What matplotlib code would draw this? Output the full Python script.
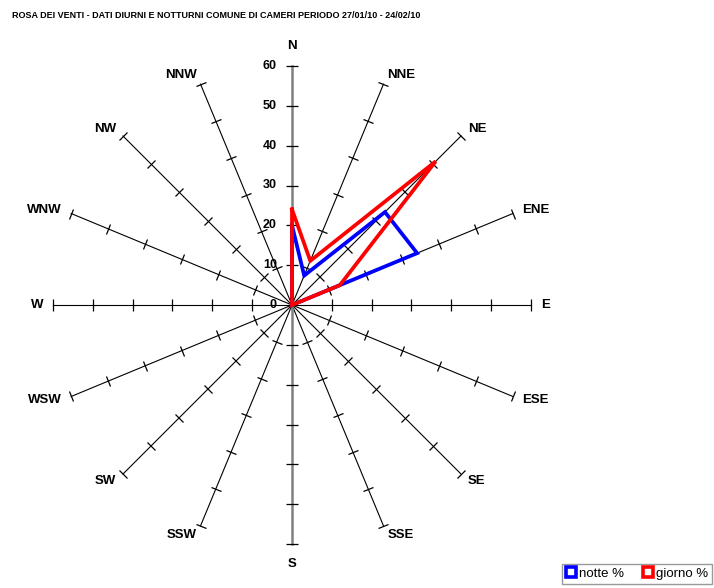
"""
Rosa dei venti - dati diurni e notturni, Cameri
"""
import matplotlib
matplotlib.use('Agg')
import matplotlib.pyplot as plt
from matplotlib import font_manager
from matplotlib.markers import MarkerStyle
from matplotlib.transforms import Affine2D
from matplotlib.lines import Line2D
import numpy as np

plt.rcParams['font.family'] = ['Liberation Sans', 'DejaVu Sans']

# --- data -------------------------------------------------------------
directions = ['N', 'NNE', 'NE', 'ENE', 'E', 'ESE', 'SE', 'SSE',
              'S', 'SSW', 'SW', 'WSW', 'W', 'WNW', 'NW', 'NNW']
notte = [20, 8, 33, 34, 0, 0, 0, 0, 0, 0, 0, 0, 0, 0, 0, 0]
giorno = [24, 12, 51, 13, 0, 0, 0, 0, 0, 0, 0, 0, 0, 0, 0, 0]
r_ticks = [0, 10, 20, 30, 40, 50, 60]

TITLE = 'ROSA DEI VENTI - DATI DIURNI E NOTTURNI COMUNE DI CAMERI PERIODO 27/01/10 - 24/02/10'
BLUE = '#0000ff'
RED = '#ff0000'
GREY = '#808080'

W, H = 714, 588
fig = plt.figure(figsize=(W / 100, H / 100), dpi=100)
fig.patch.set_facecolor('white')

# centre at (292, 305) px, radius 239 px
cx, cy, R = 292, 305, 239
ax = fig.add_axes([(cx - R) / W, (H - cy - R) / H, 2 * R / W, 2 * R / H],
                  projection='polar')
ax.set_theta_zero_location('N')
ax.set_theta_direction(-1)
ax.set_ylim(0, r_ticks[-1])
ax.set_facecolor('none')
ax.spines['polar'].set_visible(False)
ax.grid(False)
ax.set_xticks([])
ax.set_yticks([])

n = len(directions)
deg = np.arange(n) * 360.0 / n
ang = np.deg2rad(deg)

# spokes with perpendicular tick marks
for a, d, name in zip(ang, deg, directions):
    on_value_axis = name in ('N', 'S')
    ax.plot([a, a], [0, r_ticks[-1]], color=GREY if on_value_axis else 'black',
            lw=1.8 if on_value_axis else 0.8, clip_on=False, zorder=2)
    mk = MarkerStyle('_', transform=Affine2D().rotate_deg(-d))
    ax.plot([a] * (len(r_ticks) - 1), r_ticks[1:], linestyle='none', marker=mk,
            ms=8, mew=0.9, color='black', clip_on=False, zorder=3)

# category labels
for a, name in zip(ang, directions):
    s, c = np.sin(a), np.cos(a)
    if name in ('N', 'S'):
        off = 14
        ha = 'center'
        va = 'bottom' if c > 0 else 'top'
    else:
        off = 10
        ha = 'left' if s > 0 else 'right'
        va = 'center'
    ax.annotate(name, xy=(a, r_ticks[-1]), xytext=(off * s, off * c),
                textcoords='offset pixels', ha=ha, va=va,
                fontsize=9.5, fontweight='bold', annotation_clip=False)

# value labels on N axis
for r in r_ticks:
    ax.annotate(str(r), xy=(0, r), xytext=(-15, 0), textcoords='offset pixels',
                ha='right', va='center', fontsize=9, fontweight='bold',
                annotation_clip=False)

# data
ang_c = np.append(ang, ang[0])
ax.plot(ang_c, notte + notte[:1], color=BLUE, lw=2.7, solid_joinstyle='miter',
        clip_on=False, zorder=4)
ax.plot(ang_c, giorno + giorno[:1], color=RED, lw=2.7, solid_joinstyle='miter',
        clip_on=False, zorder=5)

# title: narrow bold face, shrunk to the width used in the original
names = {f.name for f in font_manager.fontManager.ttflist}
tfam = [f for f in ('Liberation Sans Narrow', 'DejaVu Sans Condensed') if f in names]
tfam = tfam + ['Liberation Sans']
title = fig.text(12 / W, 1 - 16 / H, TITLE, fontsize=9, fontweight='bold',
                 family=tfam, va='center', ha='left')
renderer = fig.canvas.get_renderer()
tw = title.get_window_extent(renderer).width
if tw > 412:
    title.set_fontsize(9 * 412 / tw)

handles = [Line2D([], [], linestyle='none', marker='s', ms=7.5, mew=2.6,
                  mfc='white', mec=BLUE),
           Line2D([], [], linestyle='none', marker='s', ms=7.5, mew=2.6,
                  mfc='white', mec=RED)]
leg = fig.legend(handles, ['notte %', 'giorno %'], loc='lower right',
                 bbox_to_anchor=(712 / W, 4 / H), ncol=2, fontsize=9.5,
                 frameon=True, fancybox=False, handlelength=0.8,
                 handletextpad=0.2, columnspacing=1.4, borderpad=0.3,
                 borderaxespad=0)
leg.get_frame().set_edgecolor(GREY)
leg.get_frame().set_linewidth(1.0)

fig.savefig('out.png', dpi=100, facecolor='white')
plt.close(fig)
